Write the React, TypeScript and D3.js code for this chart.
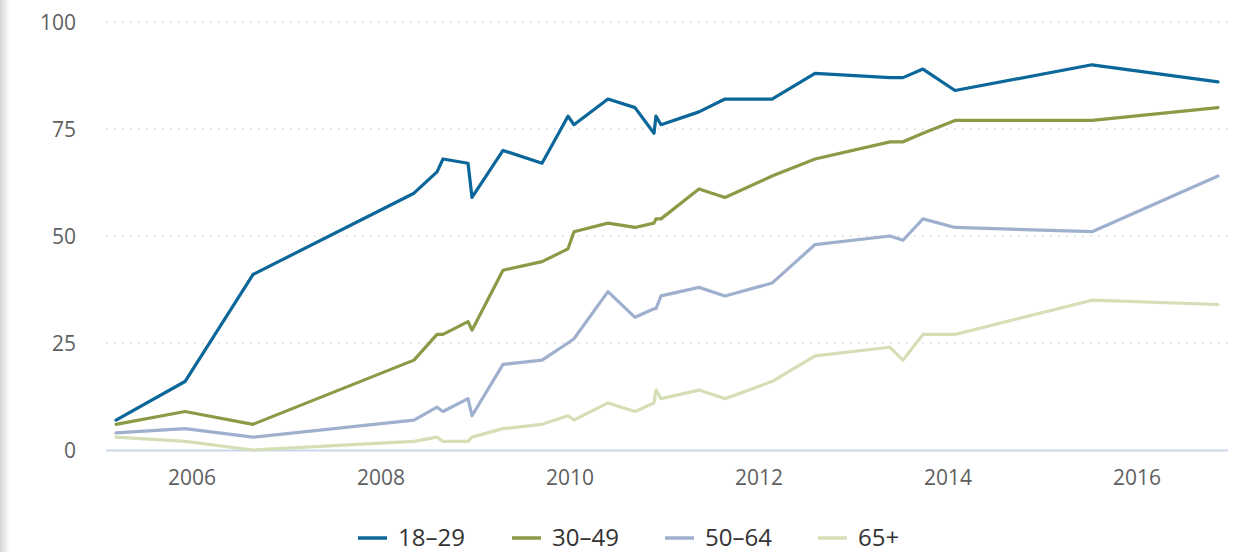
import React from "react";
import * as d3 from "d3";

const dates = [
  2005.196, 2005.926, 2006.645, 2008.349, 2008.593, 2008.656, 2008.921, 2008.963,
  2009.291, 2009.704, 2009.979, 2010.042, 2010.402, 2010.688, 2010.889, 2010.91,
  2010.963, 2011.365, 2011.64, 2012.138, 2012.593, 2013.386, 2013.524, 2013.735,
  2014.074, 2015.524, 2016.857,
];

const age18to29 = [7, 16, 41, 60, 65, 68, 67, 59, 70, 67, 78, 76, 82, 80, 74, 78, 76, 79, 82, 82, 88, 87, 87, 89, 84, 90, 86];
const age30to49 = [6, 9, 6, 21, 27, 27, 30, 28, 42, 44, 47, 51, 53, 52, 53, 54, 54, 61, 59, 64, 68, 72, 72, 74, 77, 77, 80];
const age50to64 = [4, 5, 3, 7, 10, 9, 12, 8, 20, 21, 25, 26, 37, 31, 33, 33, 36, 38, 36, 39, 48, 50, 49, 54, 52, 51, 64];
const age65plus = [3, 2, 0, 2, 3, 2, 2, 3, 5, 6, 8, 7, 11, 9, 11, 14, 12, 14, 12, 16, 22, 24, 21, 27, 27, 35, 34];

const seriesNames = ["18–29", "30–49", "50–64", "65+"];
const seriesValues = [age18to29, age30to49, age50to64, age65plus];
const seriesColors = ["#0b6799", "#8a9b47", "#9fb0cf", "#d5dfb6"];

const yTicks = [0, 25, 50, 75, 100];
const xTicks = [2006, 2008, 2010, 2012, 2014, 2016];

const W = 1245;
const H = 552;
const FONT = "'Open Sans', 'Noto Sans', sans-serif";

export default function App() {
  const x = d3.scaleLinear().domain([2005.09, 2016.963]).range([106, 1228]);
  const y = d3.scaleLinear().domain([0, 100]).range([450, 22]);

  const line = d3
    .line<[number, number]>()
    .x((d) => x(d[0]))
    .y((d) => y(d[1]));

  const legendX = [358, 512, 665, 818];

  return (
    <svg
      width={W}
      height={H}
      style={{ position: "absolute", left: 0, top: 0, background: "#fff" }}
    >
      <defs>
        <linearGradient id="edge" x1="0" x2="1" y1="0" y2="0">
          <stop offset="0" stopColor="#d6d6d6" />
          <stop offset="1" stopColor="#ffffff" />
        </linearGradient>
      </defs>
      <rect x={0} y={0} width={10} height={H} fill="url(#edge)" />

      {yTicks
        .filter((t) => t > 0)
        .map((t) => (
          <line
            key={"g" + t}
            x1={106}
            x2={1228}
            y1={y(t)}
            y2={y(t)}
            stroke="#d9d9d9"
            strokeWidth={1.6}
            strokeDasharray="1.6,6.4"
          />
        ))}

      {yTicks.map((t) => (
        <text
          key={"yl" + t}
          x={76}
          y={y(t)}
          dy="0.36em"
          textAnchor="end"
          fontFamily={FONT}
          fontSize={21}
          fill="#5f5f5f"
        >
          {t}
        </text>
      ))}

      <line x1={106} x2={1228} y1={450.5} y2={450.5} stroke="#ccd6eb" strokeWidth={2} />

      {xTicks.map((t) => (
        <text
          key={"xl" + t}
          x={x(t)}
          y={485}
          textAnchor="middle"
          fontFamily={FONT}
          fontSize={21}
          fill="#5f5f5f"
        >
          {t}
        </text>
      ))}

      {seriesValues
        .map((vals, i) => ({ vals, i }))
        .reverse()
        .map(({ vals, i }) => (
          <path
            key={"s" + i}
            d={line(dates.map((d, j) => [d, vals[j]] as [number, number])) || ""}
            fill="none"
            stroke={seriesColors[i]}
            strokeWidth={3.2}
            strokeLinejoin="round"
            strokeLinecap="round"
          />
        ))}

      {seriesNames.map((name, i) => (
        <g key={"lg" + i} transform={`translate(${legendX[i]},538)`}>
          <line x1={0} x2={29} y1={0} y2={0} stroke={seriesColors[i]} strokeWidth={3.5} />
          <text
            x={40}
            y={0}
            dy="0.34em"
            fontFamily={FONT}
            fontSize={24}
            fill="#333"
          >
            {name}
          </text>
        </g>
      ))}
    </svg>
  );
}
